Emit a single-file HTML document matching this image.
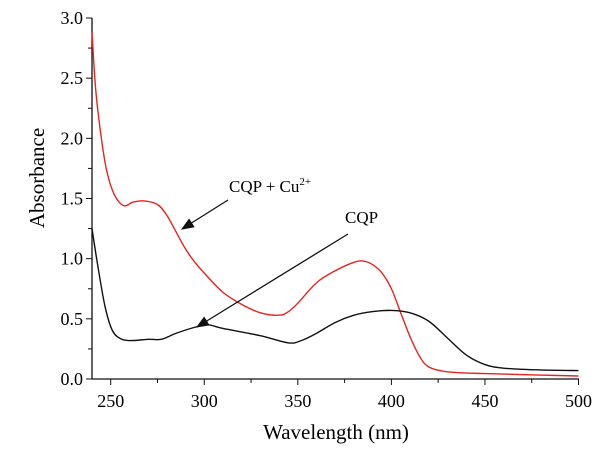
<!DOCTYPE html>
<html><head><meta charset="utf-8"><style>
body{margin:0;background:#fff}
svg{display:block;font-family:"Liberation Serif",serif}
</style></head><body>
<svg id="c" width="606" height="452">
<defs><marker id="ah" markerWidth="10" markerHeight="8" refX="9" refY="4" orient="auto"><path d="M0,0 L10,4 L0,8 z" fill="#111"/></marker></defs>
<g id="axes"></g><g id="series"></g>
<text x="336" y="439" font-size="21" text-anchor="middle">Wavelength (nm)</text>
<text transform="translate(44,178) rotate(-90)" font-size="21" text-anchor="middle">Absorbance</text>
<text x="229" y="192" font-size="17">CQP + Cu<tspan dy="-7" font-size="11">2+</tspan></text>
<line x1="228" y1="200" x2="182" y2="229" stroke="#111" stroke-width="1.3" marker-end="url(#ah)"/>
<text x="345" y="223" font-size="17">CQP</text>
<line x1="348" y1="234" x2="197" y2="327" stroke="#111" stroke-width="1.3" marker-end="url(#ah)"/>
</svg>
<script>
const xTicks=[250,300,350,400,450,500];
const yTicks=[0.0,0.5,1.0,1.5,2.0,2.5,3.0];
const redX=[240,242,245,248,252,257,262,268,275,280,285,290,295,300,310,320,330,340,345,350,360,370,380,385,390,395,400,405,410,415,420,430,450,500];
const redY=[2.88,2.4,2.0,1.72,1.53,1.44,1.47,1.48,1.45,1.36,1.22,1.08,0.97,0.88,0.72,0.62,0.55,0.53,0.56,0.63,0.8,0.9,0.97,0.98,0.95,0.88,0.75,0.55,0.35,0.19,0.1,0.06,0.045,0.025];
const blkX=[240,243,247,251,256,262,270,277,285,295,302,310,330,345,352,360,370,380,390,400,410,420,430,440,450,460,480,500];
const blkY=[1.25,0.95,0.6,0.4,0.33,0.32,0.33,0.33,0.38,0.43,0.45,0.42,0.36,0.3,0.32,0.38,0.47,0.53,0.56,0.57,0.55,0.48,0.34,0.2,0.12,0.09,0.075,0.07];
const X=v=>92+(v-240)*(578.5-92)/260;
const Y=v=>379-v*(379-18)/3;
const NS='http://www.w3.org/2000/svg';
const ax=document.getElementById('axes'),se=document.getElementById('series');
function mk(t,a,p){const e=document.createElementNS(NS,t);for(const k in a)e.setAttribute(k,a[k]);p.appendChild(e);return e;}
let l=mk('line',{x1:92,y1:379,x2:579,y2:379,stroke:'#111','stroke-width':1.3},ax);


l=mk('line',{x1:92,y1:18,x2:92,y2:379,stroke:'#111','stroke-width':1.3},ax);


for(let v=250;v<=500;v+=25){const maj=v%50==0;mk('line',{x1:X(v),y1:379,x2:X(v),y2:379+(maj?6:4),stroke:'#111'},ax);}
xTicks.forEach(v=>{const t=mk('text',{x:X(v),y:407,'font-size':18,'text-anchor':'middle'},ax);t.textContent=v;

});
for(let v=0;v<=3.001;v+=0.25){const maj=Math.abs(v*2-Math.round(v*2))<1e-6;mk('line',{x1:92,y1:Y(v),x2:92-(maj?6:4),y2:Y(v),stroke:'#111'},ax);}
yTicks.forEach(v=>{const t=mk('text',{x:83,y:Y(v)+6,'font-size':18,'text-anchor':'end'},ax);t.textContent=v.toFixed(1);

});
function path(xs,ys){const p=xs.map((x,i)=>[X(x),Y(ys[i])]);let d='M'+p[0][0]+','+p[0][1];
for(let i=0;i<p.length-1;i++){const p0=p[Math.max(0,i-1)],p1=p[i],p2=p[i+1],p3=p[Math.min(p.length-1,i+2)];
const c1=[p1[0]+(p2[0]-p0[0])/6,p1[1]+(p2[1]-p0[1])/6],c2=[p2[0]-(p3[0]-p1[0])/6,p2[1]-(p3[1]-p1[1])/6];
d+=` C${c1[0]},${c1[1]} ${c2[0]},${c2[1]} ${p2[0]},${p2[1]}`;}return d;}
let s=mk('path',{d:path(redX,redY),fill:'none',stroke:'#e8231f','stroke-width':1.4},se);


s=mk('path',{d:path(blkX,blkY),fill:'none',stroke:'#111','stroke-width':1.4},se);


</script>
</body></html>
